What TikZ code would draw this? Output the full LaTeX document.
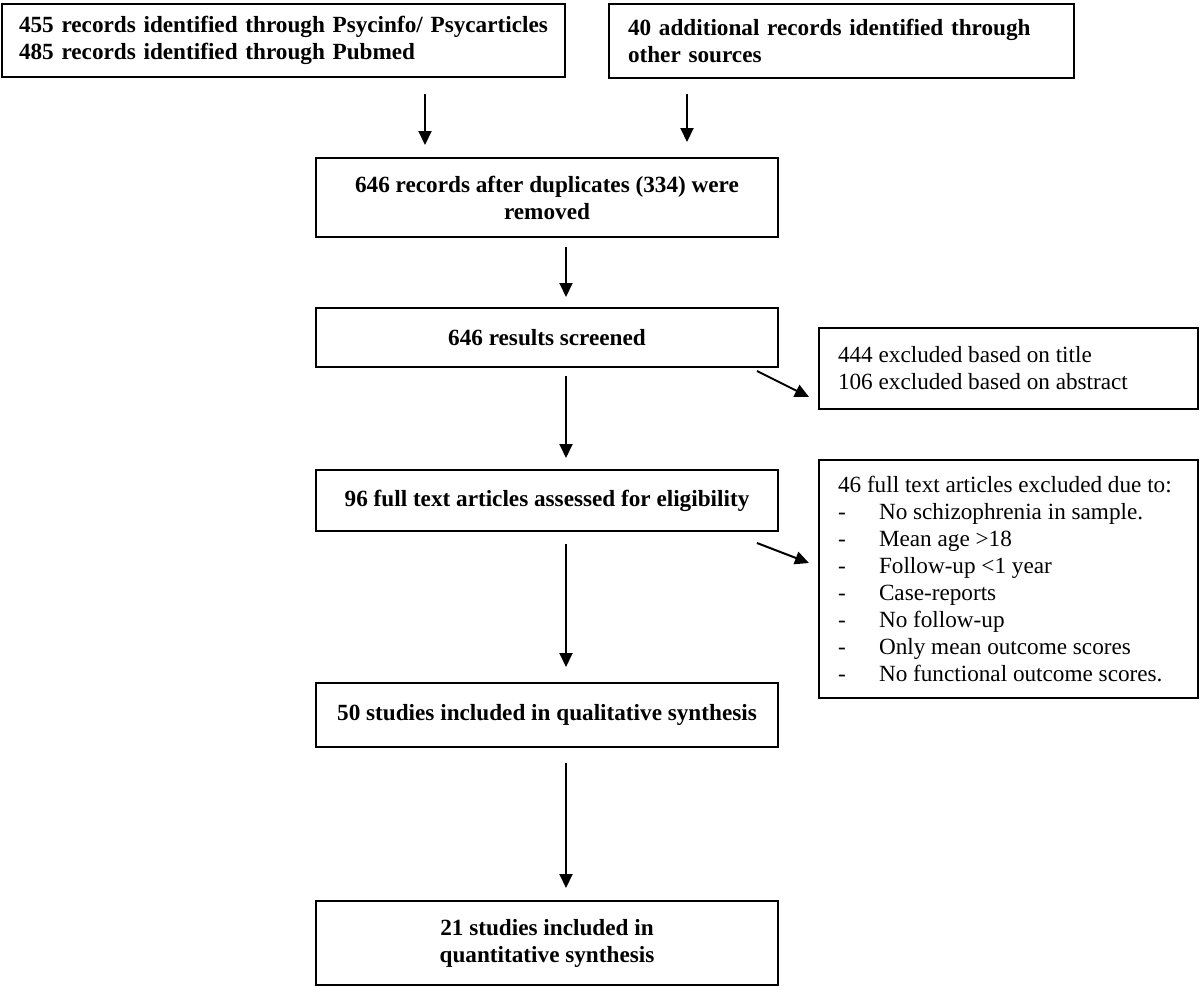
\documentclass[tikz,border=0pt]{standalone}
\usepackage{fontspec}
\setmainfont{Liberation Serif}
\usetikzlibrary{arrows.meta}
\newcommand{\dashitem}[1]{\makebox[20.5pt][l]{-}#1}

\begin{document}
\begin{tikzpicture}[x=0.5pt,y=-0.5pt, % pixel units, y pointing down
  box/.style={draw, line width=1pt, inner xsep=8.5pt, inner ysep=0pt, font=\fontsize{11.6}{13.5}\selectfont\bfseries},
  mid/.style={box, minimum width=231pt, align=center},
  excl/.style={box, font=\fontsize{11.6}{13.5}\selectfont, inner xsep=9.5pt, text width=170.5pt, align=flush left},
  arr/.style={-{Triangle[width=6.5pt,length=7pt]}, line width=1pt}]
\useasboundingbox (0,0) rectangle (1200,986);

% sources
\node[box, text width=264.5pt, align=left, minimum height=36.5pt] (srcA) at (283.5,40.5) {455 records identified through Psycinfo/ Psycarticles\\485 records identified through Pubmed};
\node[box, inner xsep=9.5pt, text width=213.5pt, align=left, minimum height=37pt] (srcB) at (841.5,41) {40 additional records identified through\\other sources};

% main column
\node[mid, minimum height=39.5pt] (dedup) at (547,197.5) {646 records after duplicates (334) were\\removed};
\node[mid, minimum height=29.5pt] (screen) at (547,337.5) {646 results screened};
\node[mid, minimum height=30.5pt] (full) at (547,500.5) {96 full text articles assessed for eligibility};
\node[mid, minimum height=32pt] (qual) at (547,715) {50 studies included in qualitative synthesis};
\node[mid, minimum height=42pt] (quant) at (547,943) {21 studies included in\\quantitative synthesis};

% exclusions
\node[excl, minimum height=40.5pt] (exclA) at (1008.5,368.5) {444 excluded based on title\\106 excluded based on abstract};
\node[excl, minimum height=119pt] (exclB) at (1008.5,579) {46 full text articles excluded due to:\\
  \dashitem{No schizophrenia in sample.}\\
  \dashitem{Mean age >18}\\
  \dashitem{Follow-up <1 year}\\
  \dashitem{Case-reports}\\
  \dashitem{No follow-up}\\
  \dashitem{Only mean outcome scores}\\
  \dashitem{No functional outcome scores.}};

% arrows
\draw[arr, shorten <=8pt, shorten >=6pt] ([xshift=70.75pt]srcA.south) -- ([xshift=-61pt]dedup.north);
\draw[arr, shorten <=7.5pt, shorten >=7.5pt] ([xshift=-77.25pt]srcB.south) -- ([xshift=70pt]dedup.north);
\draw[arr, shorten <=4.5pt, shorten >=5pt] ([xshift=9.5pt]dedup.south) -- ([xshift=9.5pt]screen.north);
\draw[arr, shorten <=4pt, shorten >=5.5pt] ([xshift=9.5pt]screen.south) -- ([xshift=9.5pt]full.north);
\draw[arr, shorten <=6pt, shorten >=7.5pt] ([xshift=9.5pt]full.south) -- ([xshift=9.5pt]qual.north);
\draw[arr, shorten <=7.5pt, shorten >=6pt] ([xshift=9.5pt]qual.south) -- ([xshift=9.5pt]quant.north);
\draw[arr] ([xshift=-11pt,yshift=-1.5pt]screen.south east) -- ([xshift=-4.5pt,yshift=-14.25pt]exclA.west);
\draw[arr] ([xshift=-11pt,yshift=-5.5pt]full.south east) -- ([xshift=-4.5pt,yshift=8pt]exclB.west);
\end{tikzpicture}
\end{document}
